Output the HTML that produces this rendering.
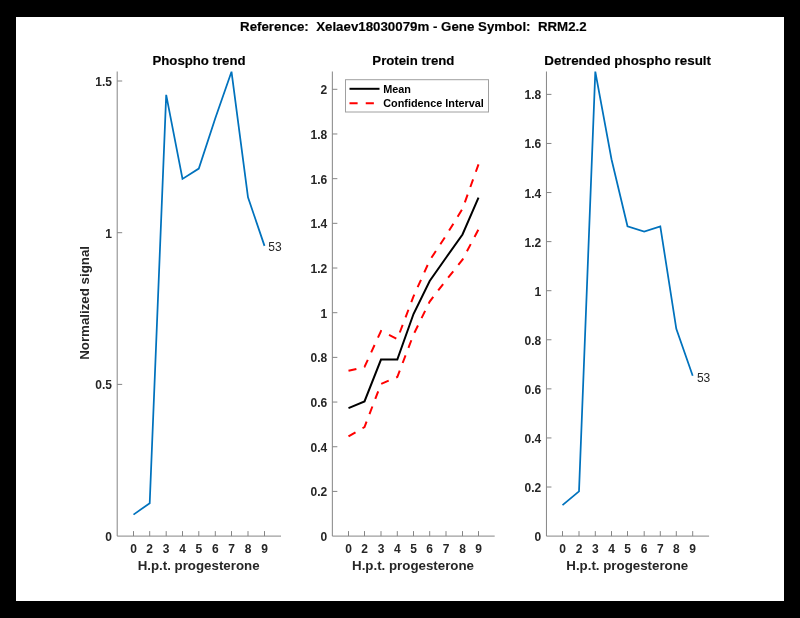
<!DOCTYPE html><html><head><meta charset="utf-8"><style>html,body{margin:0;padding:0;background:#000;overflow:hidden;}svg{display:block;will-change:transform;}text{font-family:"Liberation Sans",sans-serif;}</style></head><body>
<svg width="800" height="618" viewBox="0 0 800 618">
<rect x="0" y="0" width="800" height="618" fill="#000"/>
<rect x="16" y="17" width="768" height="584" fill="#fff"/>
<text x="413.35" y="30.6" font-size="13.3" font-weight="bold" fill="#000" stroke="#000" stroke-width="0.15" text-anchor="middle" xml:space="preserve">Reference:  Xelaev18030079m - Gene Symbol:  RRM2.2</text>
<path d="M117.20 71.50V536.10H281.00" fill="none" stroke="#858585" stroke-width="1"/>
<path d="M133.50 536.10V531.10" stroke="#858585" stroke-width="1"/>
<text x="133.50" y="552.6" font-size="12" font-weight="bold" fill="#262626" text-anchor="middle">0</text>
<path d="M149.70 536.10V531.10" stroke="#858585" stroke-width="1"/>
<text x="149.70" y="552.6" font-size="12" font-weight="bold" fill="#262626" text-anchor="middle">2</text>
<path d="M166.20 536.10V531.10" stroke="#858585" stroke-width="1"/>
<text x="166.20" y="552.6" font-size="12" font-weight="bold" fill="#262626" text-anchor="middle">3</text>
<path d="M182.50 536.10V531.10" stroke="#858585" stroke-width="1"/>
<text x="182.50" y="552.6" font-size="12" font-weight="bold" fill="#262626" text-anchor="middle">4</text>
<path d="M198.80 536.10V531.10" stroke="#858585" stroke-width="1"/>
<text x="198.80" y="552.6" font-size="12" font-weight="bold" fill="#262626" text-anchor="middle">5</text>
<path d="M215.30 536.10V531.10" stroke="#858585" stroke-width="1"/>
<text x="215.30" y="552.6" font-size="12" font-weight="bold" fill="#262626" text-anchor="middle">6</text>
<path d="M231.50 536.10V531.10" stroke="#858585" stroke-width="1"/>
<text x="231.50" y="552.6" font-size="12" font-weight="bold" fill="#262626" text-anchor="middle">7</text>
<path d="M248.00 536.10V531.10" stroke="#858585" stroke-width="1"/>
<text x="248.00" y="552.6" font-size="12" font-weight="bold" fill="#262626" text-anchor="middle">8</text>
<path d="M264.50 536.10V531.10" stroke="#858585" stroke-width="1"/>
<text x="264.50" y="552.6" font-size="12" font-weight="bold" fill="#262626" text-anchor="middle">9</text>
<text x="112.00" y="541.10" font-size="12" font-weight="bold" fill="#262626" text-anchor="end">0</text>
<path d="M117.20 384.40H122.20" stroke="#858585" stroke-width="1"/>
<text x="112.00" y="389.40" font-size="12" font-weight="bold" fill="#262626" text-anchor="end">0.5</text>
<path d="M117.20 232.70H122.20" stroke="#858585" stroke-width="1"/>
<text x="112.00" y="237.70" font-size="12" font-weight="bold" fill="#262626" text-anchor="end">1</text>
<path d="M117.20 81.00H122.20" stroke="#858585" stroke-width="1"/>
<text x="112.00" y="86.00" font-size="12" font-weight="bold" fill="#262626" text-anchor="end">1.5</text>
<text x="199.05" y="65.3" font-size="13.2" font-weight="bold" fill="#000" stroke="#000" stroke-width="0.15" text-anchor="middle">Phospho trend</text>
<text x="198.60" y="569.8" font-size="13.3" font-weight="bold" fill="#262626" text-anchor="middle">H.p.t. progesterone</text>
<path d="M332.35 71.50V536.10H494.70" fill="none" stroke="#858585" stroke-width="1"/>
<path d="M348.50 536.10V531.10" stroke="#858585" stroke-width="1"/>
<text x="348.50" y="552.6" font-size="12" font-weight="bold" fill="#262626" text-anchor="middle">0</text>
<path d="M364.50 536.10V531.10" stroke="#858585" stroke-width="1"/>
<text x="364.50" y="552.6" font-size="12" font-weight="bold" fill="#262626" text-anchor="middle">2</text>
<path d="M381.00 536.10V531.10" stroke="#858585" stroke-width="1"/>
<text x="381.00" y="552.6" font-size="12" font-weight="bold" fill="#262626" text-anchor="middle">3</text>
<path d="M397.30 536.10V531.10" stroke="#858585" stroke-width="1"/>
<text x="397.30" y="552.6" font-size="12" font-weight="bold" fill="#262626" text-anchor="middle">4</text>
<path d="M413.50 536.10V531.10" stroke="#858585" stroke-width="1"/>
<text x="413.50" y="552.6" font-size="12" font-weight="bold" fill="#262626" text-anchor="middle">5</text>
<path d="M429.70 536.10V531.10" stroke="#858585" stroke-width="1"/>
<text x="429.70" y="552.6" font-size="12" font-weight="bold" fill="#262626" text-anchor="middle">6</text>
<path d="M446.00 536.10V531.10" stroke="#858585" stroke-width="1"/>
<text x="446.00" y="552.6" font-size="12" font-weight="bold" fill="#262626" text-anchor="middle">7</text>
<path d="M462.50 536.10V531.10" stroke="#858585" stroke-width="1"/>
<text x="462.50" y="552.6" font-size="12" font-weight="bold" fill="#262626" text-anchor="middle">8</text>
<path d="M478.50 536.10V531.10" stroke="#858585" stroke-width="1"/>
<text x="478.50" y="552.6" font-size="12" font-weight="bold" fill="#262626" text-anchor="middle">9</text>
<text x="327.15" y="541.10" font-size="12" font-weight="bold" fill="#262626" text-anchor="end">0</text>
<path d="M332.35 491.42H337.35" stroke="#858585" stroke-width="1"/>
<text x="327.15" y="496.42" font-size="12" font-weight="bold" fill="#262626" text-anchor="end">0.2</text>
<path d="M332.35 446.74H337.35" stroke="#858585" stroke-width="1"/>
<text x="327.15" y="451.74" font-size="12" font-weight="bold" fill="#262626" text-anchor="end">0.4</text>
<path d="M332.35 402.06H337.35" stroke="#858585" stroke-width="1"/>
<text x="327.15" y="407.06" font-size="12" font-weight="bold" fill="#262626" text-anchor="end">0.6</text>
<path d="M332.35 357.38H337.35" stroke="#858585" stroke-width="1"/>
<text x="327.15" y="362.38" font-size="12" font-weight="bold" fill="#262626" text-anchor="end">0.8</text>
<path d="M332.35 312.70H337.35" stroke="#858585" stroke-width="1"/>
<text x="327.15" y="317.70" font-size="12" font-weight="bold" fill="#262626" text-anchor="end">1</text>
<path d="M332.35 268.02H337.35" stroke="#858585" stroke-width="1"/>
<text x="327.15" y="273.02" font-size="12" font-weight="bold" fill="#262626" text-anchor="end">1.2</text>
<path d="M332.35 223.34H337.35" stroke="#858585" stroke-width="1"/>
<text x="327.15" y="228.34" font-size="12" font-weight="bold" fill="#262626" text-anchor="end">1.4</text>
<path d="M332.35 178.66H337.35" stroke="#858585" stroke-width="1"/>
<text x="327.15" y="183.66" font-size="12" font-weight="bold" fill="#262626" text-anchor="end">1.6</text>
<path d="M332.35 133.98H337.35" stroke="#858585" stroke-width="1"/>
<text x="327.15" y="138.98" font-size="12" font-weight="bold" fill="#262626" text-anchor="end">1.8</text>
<path d="M332.35 89.30H337.35" stroke="#858585" stroke-width="1"/>
<text x="327.15" y="94.30" font-size="12" font-weight="bold" fill="#262626" text-anchor="end">2</text>
<text x="413.40" y="65.3" font-size="13.2" font-weight="bold" fill="#000" stroke="#000" stroke-width="0.15" text-anchor="middle">Protein trend</text>
<text x="413.02" y="569.8" font-size="13.3" font-weight="bold" fill="#262626" text-anchor="middle">H.p.t. progesterone</text>
<path d="M546.45 71.50V536.10H709.10" fill="none" stroke="#858585" stroke-width="1"/>
<path d="M562.50 536.10V531.10" stroke="#858585" stroke-width="1"/>
<text x="562.50" y="552.6" font-size="12" font-weight="bold" fill="#262626" text-anchor="middle">0</text>
<path d="M579.00 536.10V531.10" stroke="#858585" stroke-width="1"/>
<text x="579.00" y="552.6" font-size="12" font-weight="bold" fill="#262626" text-anchor="middle">2</text>
<path d="M595.30 536.10V531.10" stroke="#858585" stroke-width="1"/>
<text x="595.30" y="552.6" font-size="12" font-weight="bold" fill="#262626" text-anchor="middle">3</text>
<path d="M611.50 536.10V531.10" stroke="#858585" stroke-width="1"/>
<text x="611.50" y="552.6" font-size="12" font-weight="bold" fill="#262626" text-anchor="middle">4</text>
<path d="M627.50 536.10V531.10" stroke="#858585" stroke-width="1"/>
<text x="627.50" y="552.6" font-size="12" font-weight="bold" fill="#262626" text-anchor="middle">5</text>
<path d="M644.20 536.10V531.10" stroke="#858585" stroke-width="1"/>
<text x="644.20" y="552.6" font-size="12" font-weight="bold" fill="#262626" text-anchor="middle">6</text>
<path d="M660.30 536.10V531.10" stroke="#858585" stroke-width="1"/>
<text x="660.30" y="552.6" font-size="12" font-weight="bold" fill="#262626" text-anchor="middle">7</text>
<path d="M676.30 536.10V531.10" stroke="#858585" stroke-width="1"/>
<text x="676.30" y="552.6" font-size="12" font-weight="bold" fill="#262626" text-anchor="middle">8</text>
<path d="M692.70 536.10V531.10" stroke="#858585" stroke-width="1"/>
<text x="692.70" y="552.6" font-size="12" font-weight="bold" fill="#262626" text-anchor="middle">9</text>
<text x="541.25" y="541.10" font-size="12" font-weight="bold" fill="#262626" text-anchor="end">0</text>
<path d="M546.45 487.02H551.45" stroke="#858585" stroke-width="1"/>
<text x="541.25" y="492.02" font-size="12" font-weight="bold" fill="#262626" text-anchor="end">0.2</text>
<path d="M546.45 437.94H551.45" stroke="#858585" stroke-width="1"/>
<text x="541.25" y="442.94" font-size="12" font-weight="bold" fill="#262626" text-anchor="end">0.4</text>
<path d="M546.45 388.86H551.45" stroke="#858585" stroke-width="1"/>
<text x="541.25" y="393.86" font-size="12" font-weight="bold" fill="#262626" text-anchor="end">0.6</text>
<path d="M546.45 339.78H551.45" stroke="#858585" stroke-width="1"/>
<text x="541.25" y="344.78" font-size="12" font-weight="bold" fill="#262626" text-anchor="end">0.8</text>
<path d="M546.45 290.70H551.45" stroke="#858585" stroke-width="1"/>
<text x="541.25" y="295.70" font-size="12" font-weight="bold" fill="#262626" text-anchor="end">1</text>
<path d="M546.45 241.62H551.45" stroke="#858585" stroke-width="1"/>
<text x="541.25" y="246.62" font-size="12" font-weight="bold" fill="#262626" text-anchor="end">1.2</text>
<path d="M546.45 192.54H551.45" stroke="#858585" stroke-width="1"/>
<text x="541.25" y="197.54" font-size="12" font-weight="bold" fill="#262626" text-anchor="end">1.4</text>
<path d="M546.45 143.46H551.45" stroke="#858585" stroke-width="1"/>
<text x="541.25" y="148.46" font-size="12" font-weight="bold" fill="#262626" text-anchor="end">1.6</text>
<path d="M546.45 94.38H551.45" stroke="#858585" stroke-width="1"/>
<text x="541.25" y="99.38" font-size="12" font-weight="bold" fill="#262626" text-anchor="end">1.8</text>
<text x="627.70" y="65.3" font-size="13.4" font-weight="bold" fill="#000" stroke="#000" stroke-width="0.15" text-anchor="middle">Detrended phospho result</text>
<text x="627.28" y="569.8" font-size="13.3" font-weight="bold" fill="#262626" text-anchor="middle">H.p.t. progesterone</text>
<text transform="translate(88.6 302.9) rotate(-90)" x="0" y="0" font-size="13.3" font-weight="bold" fill="#262626" text-anchor="middle">Normalized signal</text>
<polyline points="133.50,514.60 149.70,503.20 166.20,94.90 182.50,178.90 198.80,168.60 215.30,118.30 231.50,71.70 248.00,197.30 264.50,245.90" fill="none" stroke="#0072BD" stroke-width="1.75"/>
<text x="268.3" y="250.6" font-size="12" fill="#262626">53</text>
<polyline points="348.50,370.78 364.50,366.99 381.00,331.02 397.30,339.06 413.50,296.39 429.70,260.42 446.00,235.63 462.50,208.82 478.50,164.36" fill="none" stroke="#ff0000" stroke-width="2" stroke-dasharray="8.12 8.12"/>
<polyline points="348.50,436.46 364.50,427.08 381.00,383.96 397.30,377.04 413.50,334.59 429.70,301.53 446.00,280.31 462.50,259.75 478.50,229.37" fill="none" stroke="#ff0000" stroke-width="2" stroke-dasharray="8.12 8.12"/>
<polyline points="348.50,408.09 364.50,401.39 381.00,359.61 397.30,359.61 413.50,314.04 429.70,280.98 446.00,257.74 462.50,234.51 478.50,197.65" fill="none" stroke="#000" stroke-width="2"/>
<rect x="345.5" y="79.7" width="143.0" height="32.3" fill="#fff" stroke="#a0a0a0" stroke-width="1"/>
<path d="M349.5 88.8H379.5" stroke="#000" stroke-width="2"/>
<path d="M349.5 103.2H379.5" stroke="#ff0000" stroke-width="2" stroke-dasharray="8.12 8.12"/>
<text x="383.2" y="93.1" font-size="10.85" font-weight="bold" fill="#000">Mean</text>
<text x="383.2" y="107.3" font-size="10.85" font-weight="bold" fill="#000">Confidence Interval</text>
<polyline points="562.50,505.20 579.00,491.30 595.30,71.60 611.50,159.20 627.50,226.30 644.20,231.60 660.30,226.30 676.30,328.80 692.70,375.70" fill="none" stroke="#0072BD" stroke-width="1.75"/>
<text x="696.9" y="381.8" font-size="12" fill="#262626">53</text>
</svg></body></html>
